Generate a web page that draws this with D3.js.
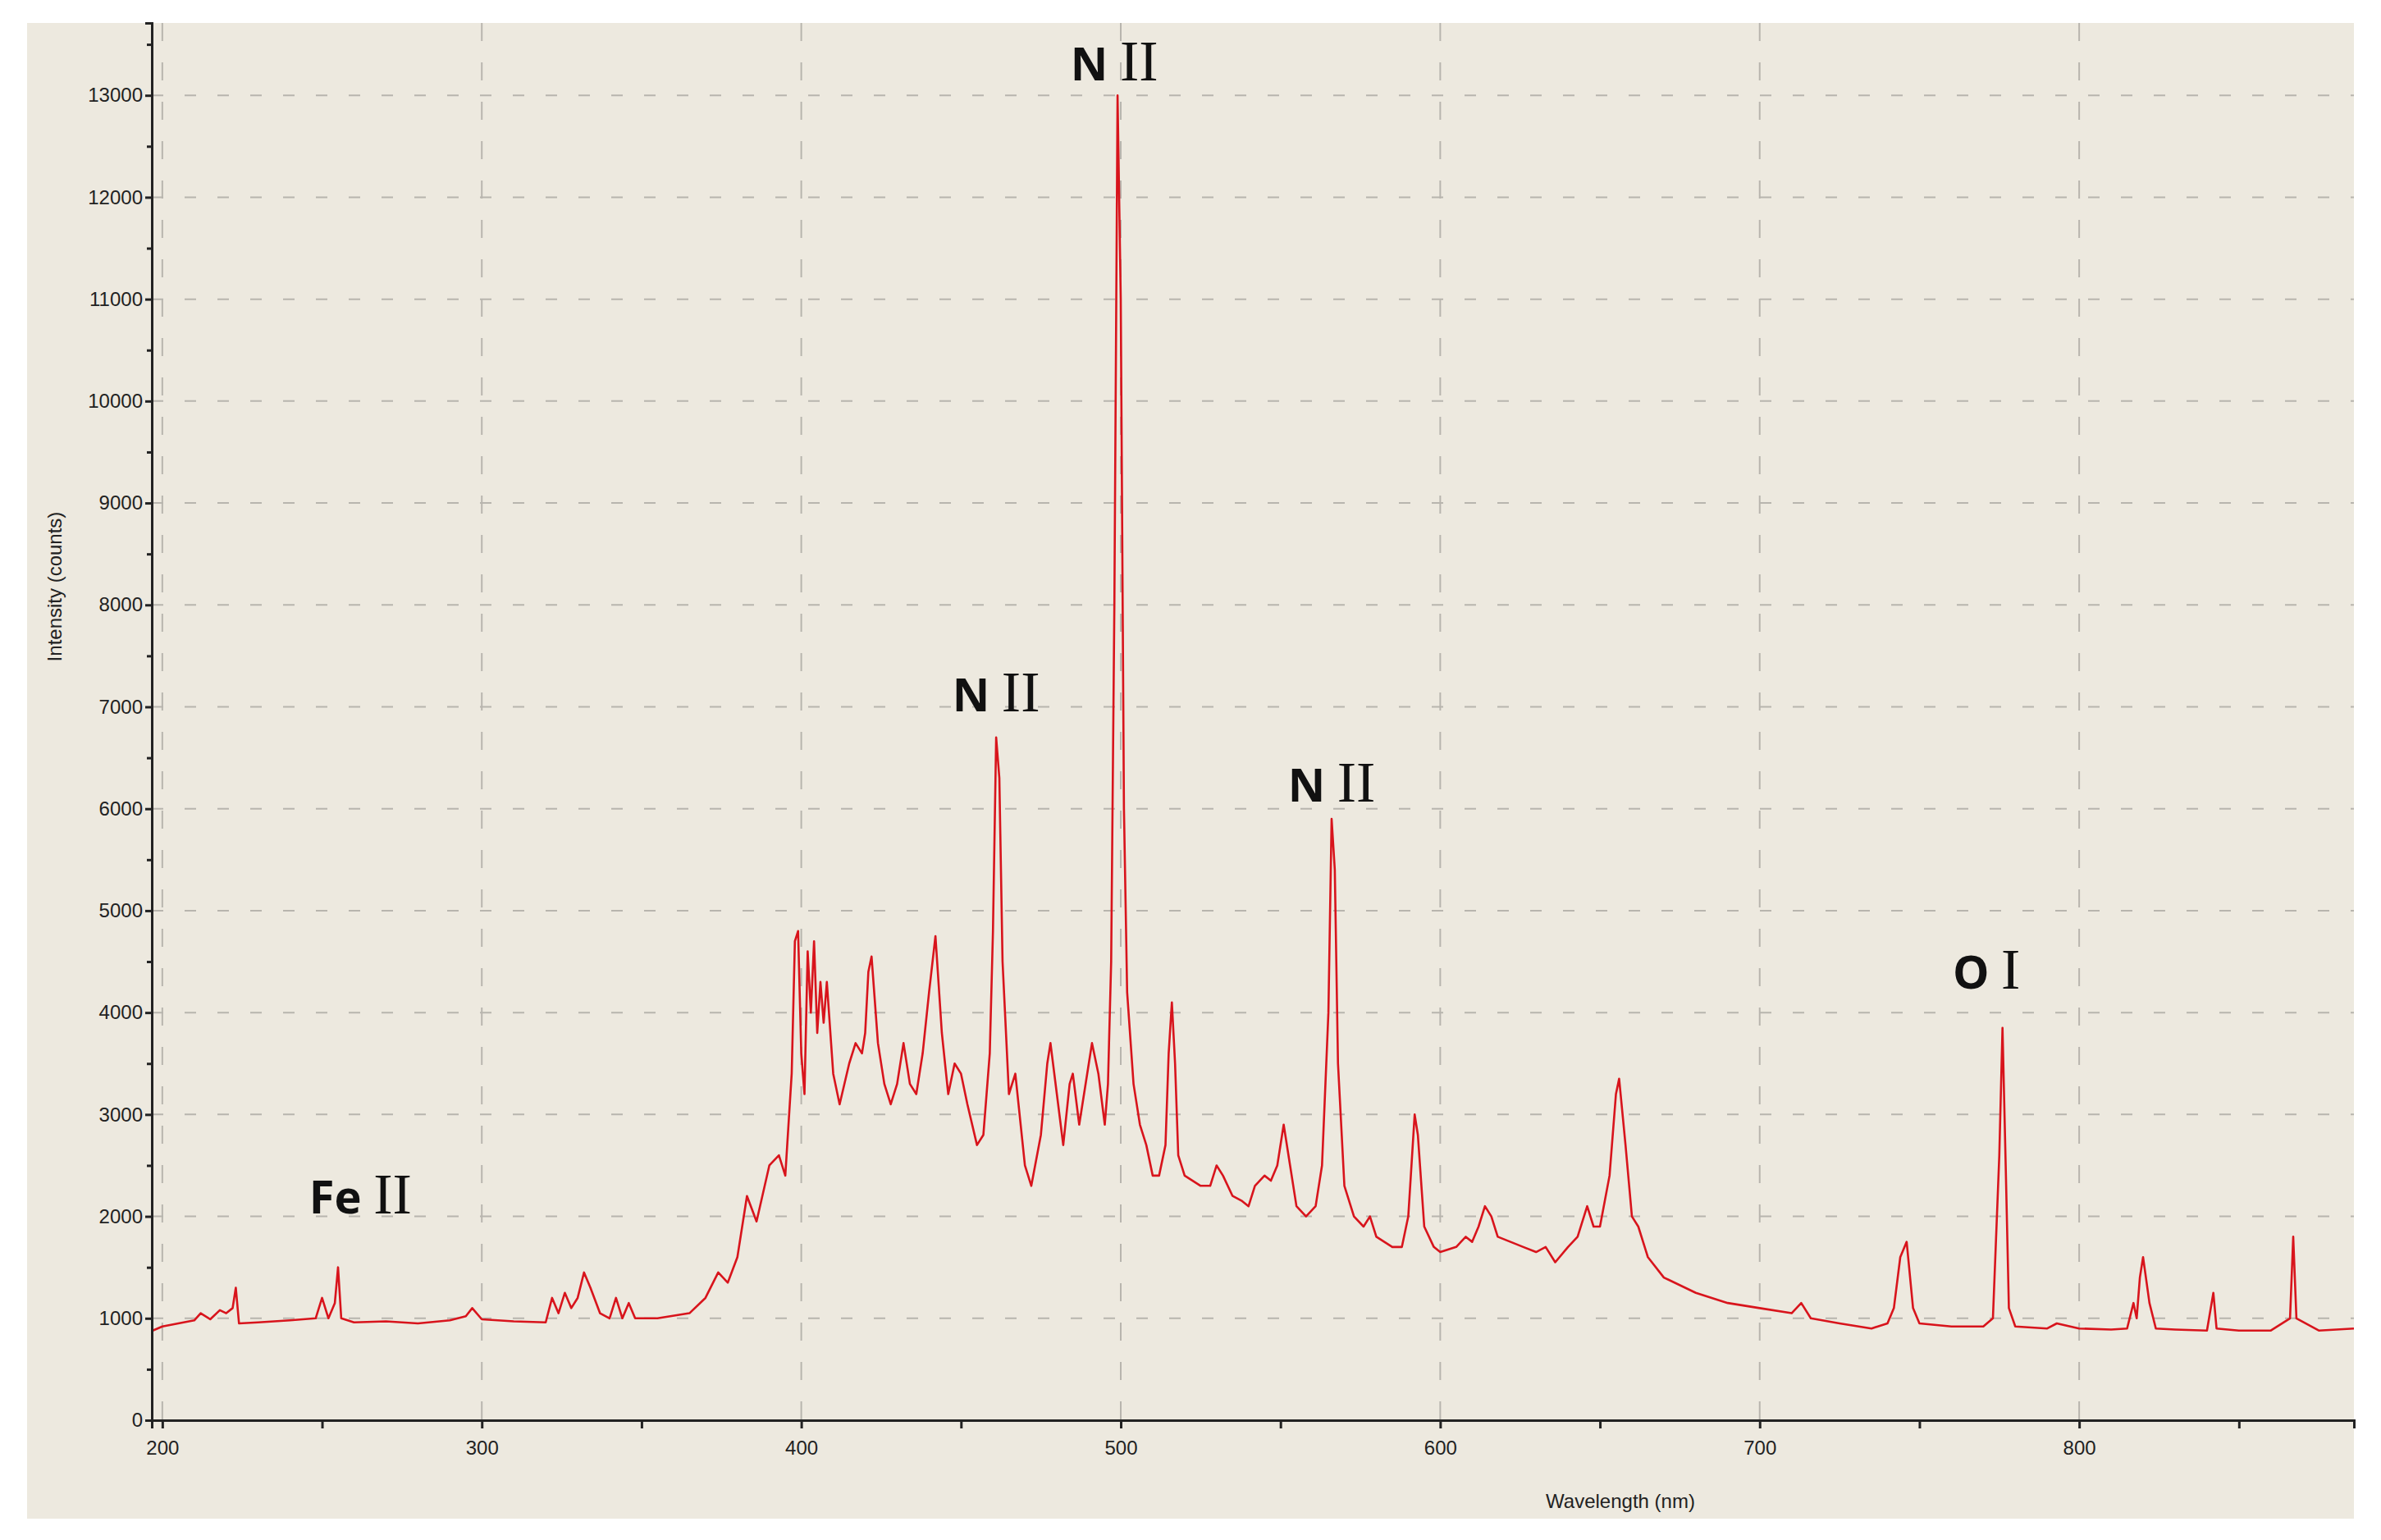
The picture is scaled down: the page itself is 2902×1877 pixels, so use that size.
<!DOCTYPE html>
<html><head><meta charset="utf-8">
<script src="https://cdn.jsdelivr.net/npm/d3@7"></script>
<style>body{margin:0;background:#fff}svg{display:block}</style>
</head><body>
<svg id="c" width="2902" height="1877"></svg>
<script>
const wavelength=[197,200,205,210,212,215,218,220,222,223,224,230,240,248,250,252,254,255,256,260,270,280,290,295,297,300,310,320,322,324,326,328,330,332,334,337,340,342,344,346,348,355,365,370,374,377,380,383,386,390,393,395,397,398,399,400,401,402,403,404,405,406,407,408,410,412,415,417,419,420,421,422,424,426,428,430,432,434,436,438,440,442,444,446,448,450,452,455,457,459,460,461,462,463,465,467,468,470,472,475,477,478,480,482,484,485,487,488,490,491,493,495,496,497,498,499,500,501,502,504,506,508,510,512,514,515,516,517,518,520,525,528,530,532,535,538,540,542,545,547,549,551,553,555,558,561,563,565,566,567,568,570,573,576,578,580,585,588,590,592,593,595,598,600,605,608,610,612,614,616,618,622,626,630,633,636,640,643,646,648,650,653,655,656,658,660,662,665,670,680,690,700,710,713,716,725,735,740,742,744,746,748,750,760,770,773,775,776,777,778,780,790,793,800,810,815,817,818,819,820,822,824,830,840,842,843,850,860,866,867,868,875,886];
const intensity=[880,920,950,980,1050,990,1080,1050,1100,1300,950,960,980,1000,1200,1000,1150,1500,1000,960,970,950,980,1020,1100,990,970,960,1200,1050,1250,1100,1200,1450,1300,1050,1000,1200,1000,1150,1000,1000,1050,1200,1450,1350,1600,2200,1950,2500,2600,2400,3400,4700,4800,3600,3200,4600,4000,4700,3800,4300,3900,4300,3400,3100,3500,3700,3600,3800,4400,4550,3700,3300,3100,3300,3700,3300,3200,3600,4200,4750,3800,3200,3500,3400,3100,2700,2800,3600,4800,6700,6300,4500,3200,3400,3100,2500,2300,2800,3500,3700,3200,2700,3300,3400,2900,3100,3500,3700,3400,2900,3300,4500,8000,13000,11000,6000,4200,3300,2900,2700,2400,2400,2700,3600,4100,3500,2600,2400,2300,2300,2500,2400,2200,2150,2100,2300,2400,2350,2500,2900,2500,2100,2000,2100,2500,4000,5900,5400,3500,2300,2000,1900,2000,1800,1700,1700,2000,3000,2800,1900,1700,1650,1700,1800,1750,1900,2100,2000,1800,1750,1700,1650,1700,1550,1700,1800,2100,1900,1900,2400,3200,3350,2700,2000,1900,1600,1400,1250,1150,1100,1050,1150,1000,950,900,950,1100,1600,1750,1100,950,920,920,1000,2600,3850,2500,1100,920,900,950,900,890,900,1150,1000,1400,1600,1150,900,890,880,1250,900,880,880,1000,1800,1000,880,900];
const xTicks=[200,300,400,500,600,700,800];
const yTicks=[0,1000,2000,3000,4000,5000,6000,7000,8000,9000,10000,11000,12000,13000];
const annotations=[{w:498,v:13000,a:"N",b:"II",dy:-18},{w:461,v:6700,a:"N",b:"II",dy:-32},{w:566,v:5900,a:"N",b:"II",dy:-21},{w:771,v:3850,a:"O",b:"I",dy:-48},{w:262,v:1500,a:"Fe",b:"II",dy:-66}];

const svg=d3.select("#c");
svg.append("rect").attr("x",33).attr("y",28).attr("width",2836).attr("height",1823).attr("fill","#ede9df");
const x=d3.scaleLinear().domain([196.7,886]).range([185,2869]);
const y=d3.scaleLinear().domain([0,13710]).range([1731,28]);
const g=svg.append("g");
g.selectAll(".gy").data(yTicks.slice(1)).join("line").attr("x1",185).attr("x2",2869).attr("y1",d=>y(d)).attr("y2",d=>y(d)).attr("stroke","#b8b5ae").attr("stroke-width",2).attr("stroke-dasharray","14,26");
g.selectAll(".gx").data(xTicks).join("line").attr("x1",d=>x(d)).attr("x2",d=>x(d)).attr("y1",28).attr("y2",1731).attr("stroke","#b8b5ae").attr("stroke-width",2).attr("stroke-dasharray","22,26");
g.append("path").datum(wavelength.map((w,i)=>[w,intensity[i]])).attr("fill","none").attr("stroke","#d8141c").attr("stroke-width",2.6).attr("stroke-linejoin","round")
 .attr("d",d3.line().x(d=>x(d[0])).y(d=>y(d[1])));
svg.append("g").attr("transform","translate(185,0)").call(d3.axisLeft(y).tickValues(yTicks).tickSize(8).tickFormat(d3.format("d")));
svg.append("g").attr("transform","translate(185,0)").call(d3.axisLeft(y).tickValues(d3.range(500,13710,1000)).tickSize(6).tickFormat(""));
const xa=svg.append("g").attr("transform","translate(0,1731)").call(d3.axisBottom(x).tickValues(xTicks).tickSize(10).tickFormat(d3.format("d")));
svg.append("g").attr("transform","translate(0,1731)").call(d3.axisBottom(x).tickValues(d3.range(250,886,100)).tickSize(10).tickFormat(""));
svg.selectAll(".domain").attr("stroke","#222").attr("stroke-width",3);
svg.selectAll(".tick line").attr("stroke","#222").attr("stroke-width",3);
svg.selectAll(".tick text").attr("font-family","Liberation Sans Narrow, Liberation Sans, sans-serif").attr("font-size",24).attr("fill","#222");
xa.selectAll(".tick text").attr("dy","1.2em");
svg.append("text").attr("x",1975).attr("y",1838).attr("text-anchor","middle").attr("font-family","Liberation Sans, sans-serif").attr("font-size",24).attr("fill","#222").text("Wavelength (nm)");
svg.append("text").attr("transform","translate(75,715) rotate(-90)").attr("text-anchor","middle").attr("font-family","Liberation Sans, sans-serif").attr("font-size",24).attr("fill","#222").text("Intensity (counts)");
annotations.forEach(a=>{
 const t=svg.append("text").attr("x",x(a.w)).attr("y",y(a.v)+a.dy).attr("text-anchor","middle").attr("fill","#111");
 t.append("tspan").attr("font-family","Open Sans, sans-serif").attr("font-weight","bold").attr("font-size",56).text(a.a+" ");
 t.append("tspan").attr("font-family","Liberation Serif, serif").attr("font-size",70).text(a.b);
});
</script>
</body></html>
